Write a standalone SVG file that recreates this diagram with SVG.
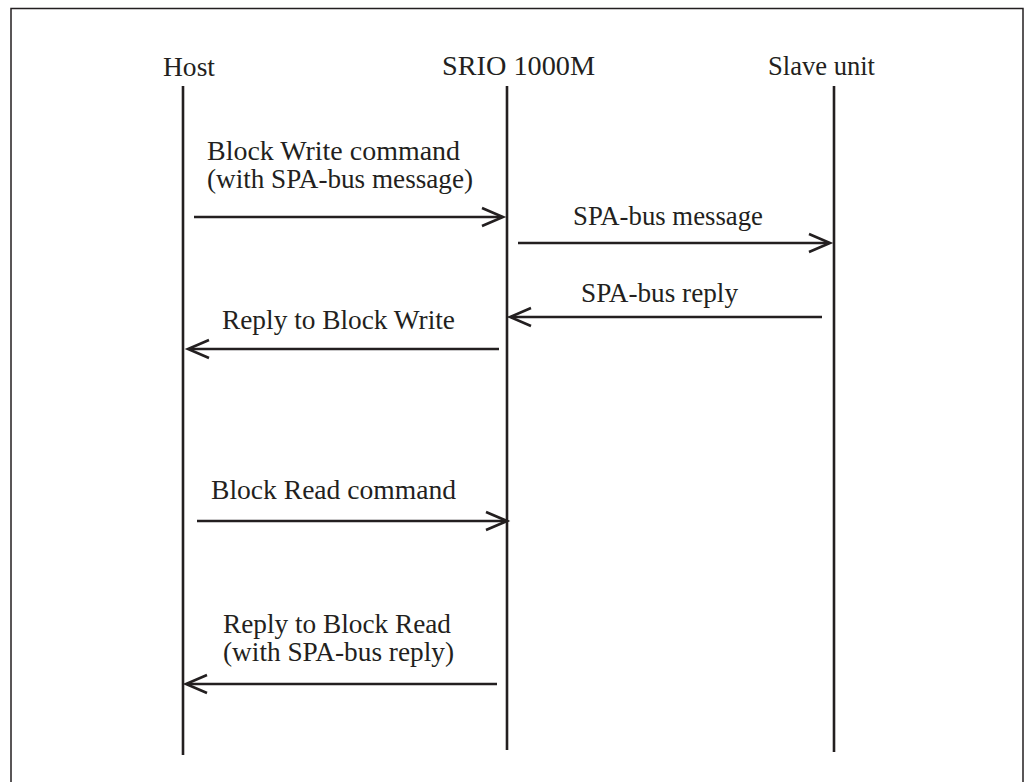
<svg xmlns="http://www.w3.org/2000/svg" width="1029" height="782" viewBox="0 0 1029 782">
<style>
.t{font-family:"Liberation Serif","Times New Roman",serif;font-size:27px;fill:#231f20}
.life{stroke:#231f20;stroke-width:2.6;fill:none}
.msg{stroke:#231f20;stroke-width:2.6;fill:none}
.head{stroke:#231f20;stroke-width:2.6;fill:none;stroke-linecap:butt;stroke-linejoin:miter}
</style>
<rect width="1029" height="782" fill="#ffffff"/>
<path d="M11,782 V8.5 H1023 V782" fill="none" stroke="#231f20" stroke-width="1.5"/>
<g id="host">
<text class="t" x="163" y="76" textLength="52" lengthAdjust="spacingAndGlyphs">Host</text>
<line class="life" x1="183" y1="86" x2="183" y2="755"/>
</g>
<g id="srio">
<text class="t" x="442" y="75" textLength="153" lengthAdjust="spacingAndGlyphs">SRIO 1000M</text>
<line class="life" x1="507" y1="86" x2="507" y2="750"/>
</g>
<g id="slave">
<text class="t" x="768" y="75" textLength="107" lengthAdjust="spacingAndGlyphs">Slave unit</text>
<line class="life" x1="834" y1="86" x2="834" y2="752"/>
</g>
<g id="connectors">
<g id="m1">
<line class="msg" x1="194" y1="217" x2="502" y2="217"/>
<path class="head" d="M482,208 L503,217 L482,226"/>
<text class="t" x="207" y="160" textLength="253" lengthAdjust="spacingAndGlyphs">Block Write command</text>
<text class="t" x="207" y="188" textLength="266" lengthAdjust="spacingAndGlyphs">(with SPA-bus message)</text>
</g>
<g id="m2">
<line class="msg" x1="518" y1="243" x2="829" y2="243"/>
<path class="head" d="M809,234 L830,243 L809,252"/>
<text class="t" x="573" y="225" textLength="190" lengthAdjust="spacingAndGlyphs">SPA-bus message</text>
</g>
<g id="m3">
<line class="msg" x1="822" y1="317" x2="511" y2="317"/>
<path class="head" d="M531,308 L510,317 L531,326"/>
<text class="t" x="581" y="302" textLength="157" lengthAdjust="spacingAndGlyphs">SPA-bus reply</text>
</g>
<g id="m4">
<line class="msg" x1="499" y1="349" x2="189" y2="349"/>
<path class="head" d="M209,340 L188,349 L209,358"/>
<text class="t" x="222" y="329" textLength="233" lengthAdjust="spacingAndGlyphs">Reply to Block Write</text>
</g>
<g id="m5">
<line class="msg" x1="197" y1="521" x2="506" y2="521"/>
<path class="head" d="M486,512 L507,521 L486,530"/>
<text class="t" x="211" y="499" textLength="245" lengthAdjust="spacingAndGlyphs">Block Read command</text>
</g>
<g id="m6">
<line class="msg" x1="497" y1="684" x2="187" y2="684"/>
<path class="head" d="M207,675 L186,684 L207,693"/>
<text class="t" x="223" y="633" textLength="228" lengthAdjust="spacingAndGlyphs">Reply to Block Read</text>
<text class="t" x="223" y="661" textLength="231" lengthAdjust="spacingAndGlyphs">(with SPA-bus reply)</text>
</g>
</g>
</svg>
